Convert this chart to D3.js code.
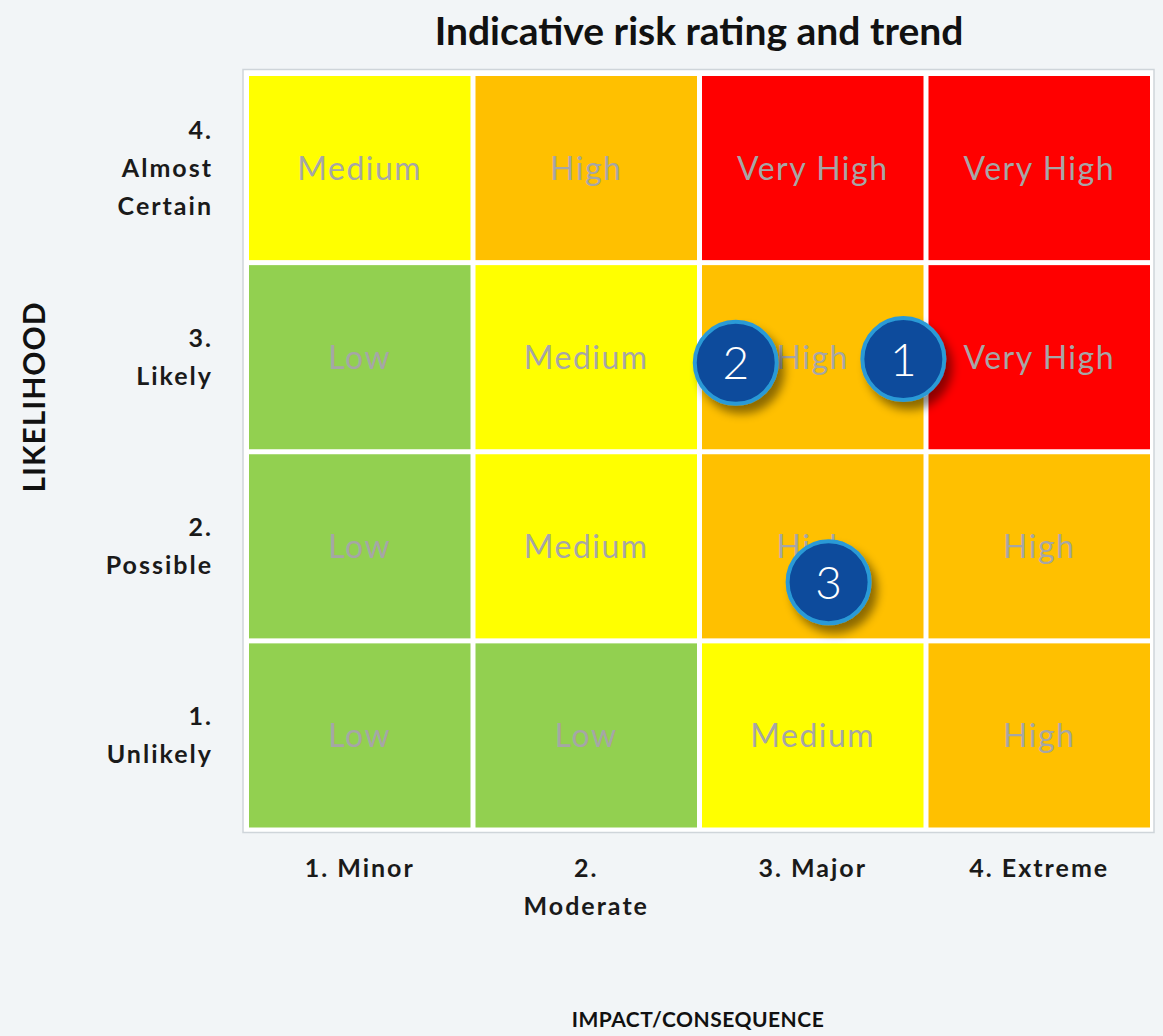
<!DOCTYPE html>
<html>
<head>
<meta charset="utf-8">
<script src="https://cdn.jsdelivr.net/npm/d3@7"></script>
<style>
  html, body { margin: 0; padding: 0; background: #f2f5f7; }
  #chart { width: 1163px; height: 1036px; }
  text { font-family: Lato, "Open Sans", sans-serif; }
</style>
</head>
<body>
<div id="chart"></div>
<script>
// matrix axes
var impactLabels = [['1. Minor'], ['2.', 'Moderate'], ['3. Major'], ['4. Extreme']];
var likelihoodLabels = [['1.', 'Unlikely'], ['2.', 'Possible'], ['3.', 'Likely'], ['4.', 'Almost', 'Certain']];
// rating per cell, rows from likelihood 1 to 4, columns impact 1 to 4
var ratings = [
    ['Low', 'Low', 'Medium', 'High'],
    ['Low', 'Medium', 'High', 'High'],
    ['Low', 'Medium', 'High', 'Very High'],
    ['Medium', 'High', 'Very High', 'Very High']
];
// risks placed on the matrix (impact, likelihood)
var riskIds = ['1', '2', '3'];
var riskImpact = [3.40, 2.66, 3.07];
var riskLikelihood = [2.99, 2.97, 1.81];

var colorMap = {
    'Low': '#92d050',
    'Medium': '#ffff00',
    'High': '#ffc000',
    'Very High': '#ff0000'
};

var init = function (selector) {
    var width = 1163, height = 1036;
    var svg = d3.select(selector).append('svg')
        .attr('width', width)
        .attr('height', height);

    var defs = svg.append('defs');
    var shadow = defs.append('filter')
        .attr('id', 'shadow')
        .attr('x', '-50%').attr('y', '-50%')
        .attr('width', '200%').attr('height', '200%');
    shadow.append('feDropShadow')
        .attr('dx', 6).attr('dy', 8)
        .attr('stdDeviation', 5)
        .attr('flood-color', '#000')
        .attr('flood-opacity', 0.45);

    var left = 246.5, right = 1152.5, top = 73.5, bottom = 830;
    var x = d3.scaleLinear().domain([0.5, 4.5]).range([left, right]);
    var y = d3.scaleLinear().domain([0.5, 4.5]).range([bottom, top]);
    var gap = 5;

    // frame
    svg.append('rect')
        .attr('x', 243).attr('y', 69.5)
        .attr('width', 911).attr('height', 763)
        .attr('fill', '#ffffff')
        .attr('stroke', '#cfd5da')
        .attr('stroke-width', 1.5);

    var cells = [];
    ratings.forEach(function (row, r) {
        row.forEach(function (rating, c) {
            cells.push({ impact: c + 1, likelihood: r + 1, rating: rating });
        });
    });

    svg.selectAll('.cell')
        .data(cells)
        .enter()
        .append('rect')
        .attr('class', 'cell')
        .attr('x', function (d) { return x(d.impact - 0.5) + gap / 2; })
        .attr('y', function (d) { return y(d.likelihood + 0.5) + gap / 2; })
        .attr('width', function (d) { return x(d.impact + 0.5) - x(d.impact - 0.5) - gap; })
        .attr('height', function (d) { return y(d.likelihood - 0.5) - y(d.likelihood + 0.5) - gap; })
        .attr('fill', function (d) { return colorMap[d.rating]; });

    svg.selectAll('.cell-label')
        .data(cells)
        .enter()
        .append('text')
        .attr('class', 'cell-label')
        .attr('x', function (d) { return x(d.impact); })
        .attr('y', function (d) { return y(d.likelihood); })
        .attr('dy', '0.36em')
        .attr('text-anchor', 'middle')
        .attr('font-size', 32)
        .attr('letter-spacing', 1.5)
        .attr('fill', '#a6a6a6')
        .text(function (d) { return d.rating; });

    // likelihood tick labels
    var yLabels = svg.selectAll('.y-label')
        .data(likelihoodLabels)
        .enter()
        .append('text')
        .attr('class', 'y-label')
        .attr('text-anchor', 'end')
        .attr('font-size', 25)
        .attr('letter-spacing', 2)
        .attr('font-weight', 'bold')
        .attr('fill', '#1a1a1a')
        .attr('y', function (d, i) { return y(i + 1); });
    yLabels.selectAll('tspan')
        .data(function (d) { return d.map(function (t, j) { return { t: t, j: j, n: d.length }; }); })
        .enter()
        .append('tspan')
        .attr('x', 213)
        .attr('dy', function (d) { return d.j === 0 ? ((-(d.n - 1) / 2) * 1.52 + 0.36) + 'em' : '1.52em'; })
        .text(function (d) { return d.t; });

    // impact tick labels
    var xLabels = svg.selectAll('.x-label')
        .data(impactLabels)
        .enter()
        .append('text')
        .attr('class', 'x-label')
        .attr('text-anchor', 'middle')
        .attr('font-size', 25)
        .attr('letter-spacing', 2)
        .attr('font-weight', 'bold')
        .attr('fill', '#1a1a1a')
        .attr('y', 877);
    xLabels.selectAll('tspan')
        .data(function (d, i) { return d.map(function (t, j) { return { t: t, j: j, i: i }; }); })
        .enter()
        .append('tspan')
        .attr('x', function (d) { return x(d.i + 1); })
        .attr('dy', function (d) { return d.j === 0 ? 0 : '1.52em'; })
        .text(function (d) { return d.t; });

    // titles
    svg.append('text')
        .attr('x', 699).attr('y', 45)
        .attr('text-anchor', 'middle')
        .attr('font-size', 39)
        .attr('font-weight', 'bold')
        .attr('fill', '#111')
        .text('Indicative risk rating and trend');

    svg.append('text')
        .attr('transform', 'translate(45, 397) rotate(-90)')
        .attr('text-anchor', 'middle')
        .attr('font-size', 30)
        .attr('letter-spacing', 1)
        .attr('font-weight', 'bold')
        .attr('fill', '#111')
        .text('LIKELIHOOD');

    svg.append('text')
        .attr('x', 698).attr('y', 1027)
        .attr('text-anchor', 'middle')
        .attr('font-size', 21)
        .attr('letter-spacing', 0.5)
        .attr('font-weight', 'bold')
        .attr('fill', '#111')
        .text('IMPACT/CONSEQUENCE');

    // risk markers
    var risks = riskIds.map(function (id, i) {
        return { id: id, impact: riskImpact[i], likelihood: riskLikelihood[i] };
    });
    var marker = svg.selectAll('.risk')
        .data(risks)
        .enter()
        .append('g')
        .attr('class', 'risk')
        .attr('transform', function (d) { return 'translate(' + x(d.impact) + ',' + y(d.likelihood) + ')'; });
    marker.append('circle')
        .attr('r', 41)
        .attr('fill', '#0a4c9c')
        .attr('stroke', '#2c9ad6')
        .attr('stroke-width', 4)
        .attr('filter', 'url(#shadow)');
    marker.append('text')
        .attr('text-anchor', 'middle')
        .attr('dy', '0.36em')
        .attr('font-size', 46)
        .attr('font-weight', 300)
        .attr('fill', '#ffffff')
        .text(function (d) { return d.id; });
};
init('#chart');
</script>
</body>
</html>
